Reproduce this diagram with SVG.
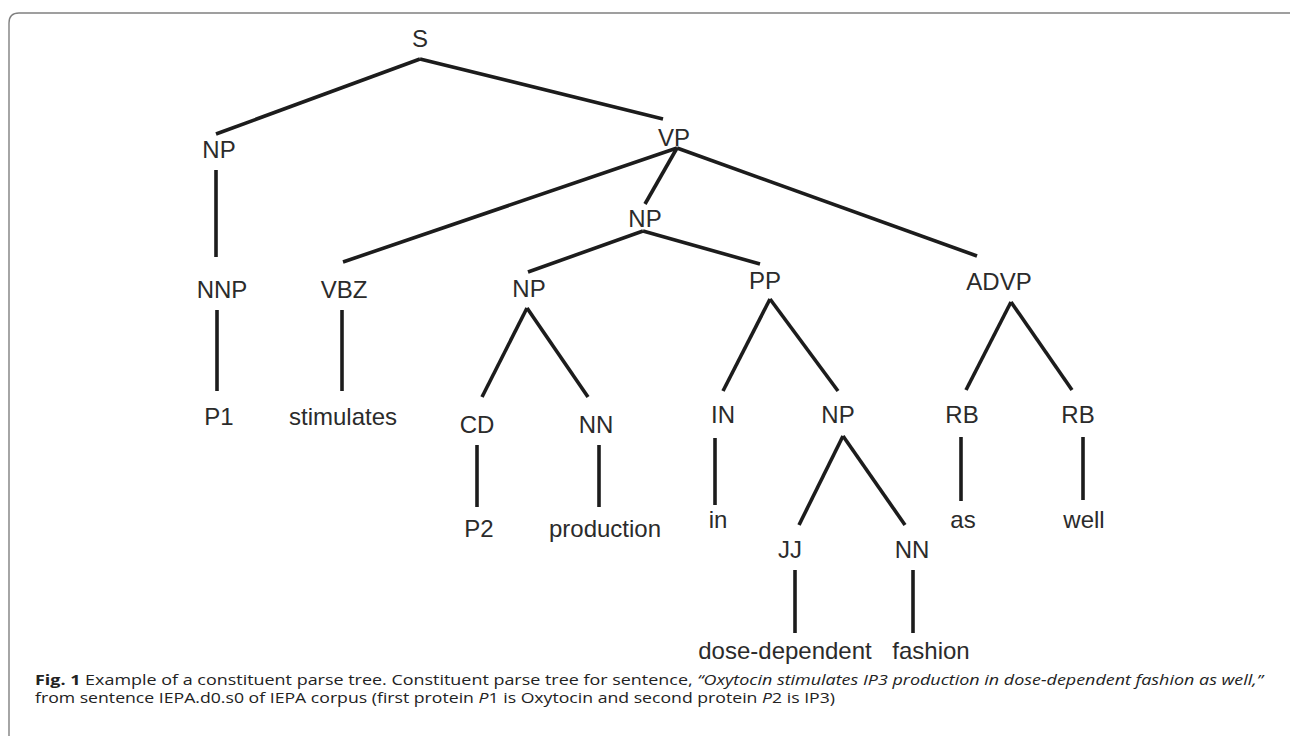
<svg xmlns="http://www.w3.org/2000/svg" width="1290" height="736" viewBox="0 0 1290 736">
<style>
.lbl{font-family:"Liberation Sans",Arial,sans-serif;font-size:24px;fill:#2b2b2b;text-anchor:middle}
.edge{stroke:#1c1c1c;stroke-width:3.6;fill:none}
.cap{font-family:"Open Sans","Noto Sans",sans-serif;font-size:15px;fill:#222}
.frame{stroke:#808080;stroke-width:1.4;fill:none}
</style>
<rect width="1290" height="736" fill="#ffffff"/>
<path class="frame" d="M9,740 V23 Q9,13 19,13 H1292"/>
<g id="connectors">
<line class="edge" x1="420" y1="59" x2="216" y2="134"/>
<line class="edge" x1="420" y1="59" x2="663" y2="119"/>
<line class="edge" x1="216" y1="170" x2="216" y2="257"/>
<line class="edge" x1="217" y1="310" x2="217" y2="391"/>
<line class="edge" x1="677" y1="148" x2="343" y2="262"/>
<line class="edge" x1="677" y1="148" x2="645" y2="204"/>
<line class="edge" x1="677" y1="148" x2="977" y2="256"/>
<line class="edge" x1="342" y1="310" x2="342" y2="391"/>
<line class="edge" x1="643" y1="231" x2="528" y2="272"/>
<line class="edge" x1="643" y1="231" x2="760" y2="264"/>
<line class="edge" x1="527" y1="308" x2="482" y2="397"/>
<line class="edge" x1="527" y1="308" x2="588" y2="397"/>
<line class="edge" x1="477" y1="445" x2="477" y2="507"/>
<line class="edge" x1="599" y1="445" x2="599" y2="507"/>
<line class="edge" x1="770" y1="299" x2="723" y2="391"/>
<line class="edge" x1="770" y1="299" x2="838" y2="391"/>
<line class="edge" x1="715" y1="438" x2="715" y2="505"/>
<line class="edge" x1="843" y1="436" x2="799" y2="525"/>
<line class="edge" x1="843" y1="436" x2="905" y2="525"/>
<line class="edge" x1="795" y1="570" x2="795" y2="633"/>
<line class="edge" x1="913" y1="570" x2="913" y2="633"/>
<line class="edge" x1="1011" y1="302" x2="966" y2="390"/>
<line class="edge" x1="1011" y1="302" x2="1072" y2="390"/>
<line class="edge" x1="961" y1="437" x2="961" y2="501"/>
<line class="edge" x1="1083" y1="437" x2="1083" y2="500"/>
</g>
<g id="n-S"><text class="lbl" x="420" y="47">S</text></g>
<g id="n-NP1"><text class="lbl" x="219" y="158">NP</text></g>
<g id="n-VP"><text class="lbl" x="674" y="146">VP</text></g>
<g id="n-NP2"><text class="lbl" x="645" y="227">NP</text></g>
<g id="n-NNP"><text class="lbl" x="222" y="298">NNP</text></g>
<g id="n-VBZ"><text class="lbl" x="344" y="298">VBZ</text></g>
<g id="n-NP3"><text class="lbl" x="529" y="297">NP</text></g>
<g id="n-PP"><text class="lbl" x="765" y="289">PP</text></g>
<g id="n-ADVP"><text class="lbl" x="999" y="290">ADVP</text></g>
<g id="n-P1"><text class="lbl" x="219" y="425">P1</text></g>
<g id="n-stimulates"><text class="lbl" x="343" y="425">stimulates</text></g>
<g id="n-CD"><text class="lbl" x="477" y="433">CD</text></g>
<g id="n-NN1"><text class="lbl" x="596" y="433">NN</text></g>
<g id="n-IN"><text class="lbl" x="723" y="423">IN</text></g>
<g id="n-NP4"><text class="lbl" x="838" y="423">NP</text></g>
<g id="n-RB1"><text class="lbl" x="962" y="423">RB</text></g>
<g id="n-RB2"><text class="lbl" x="1078" y="423">RB</text></g>
<g id="n-P2"><text class="lbl" x="479" y="537">P2</text></g>
<g id="n-production"><text class="lbl" x="605" y="537">production</text></g>
<g id="n-in"><text class="lbl" x="718" y="528">in</text></g>
<g id="n-as"><text class="lbl" x="963" y="528">as</text></g>
<g id="n-well"><text class="lbl" x="1084" y="528">well</text></g>
<g id="n-JJ"><text class="lbl" x="790" y="558">JJ</text></g>
<g id="n-NN2"><text class="lbl" x="912" y="558">NN</text></g>
<g id="n-dose"><text class="lbl" x="785" y="659">dose-dependent</text></g>
<g id="n-fashion"><text class="lbl" x="931" y="659">fashion</text></g>
<g id="caption">
<text class="cap" x="35" y="685" textLength="1228" lengthAdjust="spacingAndGlyphs"><tspan font-weight="bold">Fig. 1</tspan> Example of a constituent parse tree. Constituent parse tree for sentence, <tspan font-style="italic">“Oxytocin stimulates IP3 production in dose-dependent fashion as well,”</tspan></text>
<text class="cap" x="35" y="703" textLength="800" lengthAdjust="spacingAndGlyphs">from sentence IEPA.d0.s0 of IEPA corpus (first protein <tspan font-style="italic">P</tspan>1 is Oxytocin and second protein <tspan font-style="italic">P</tspan>2 is IP3)</text>
</g>
</svg>
